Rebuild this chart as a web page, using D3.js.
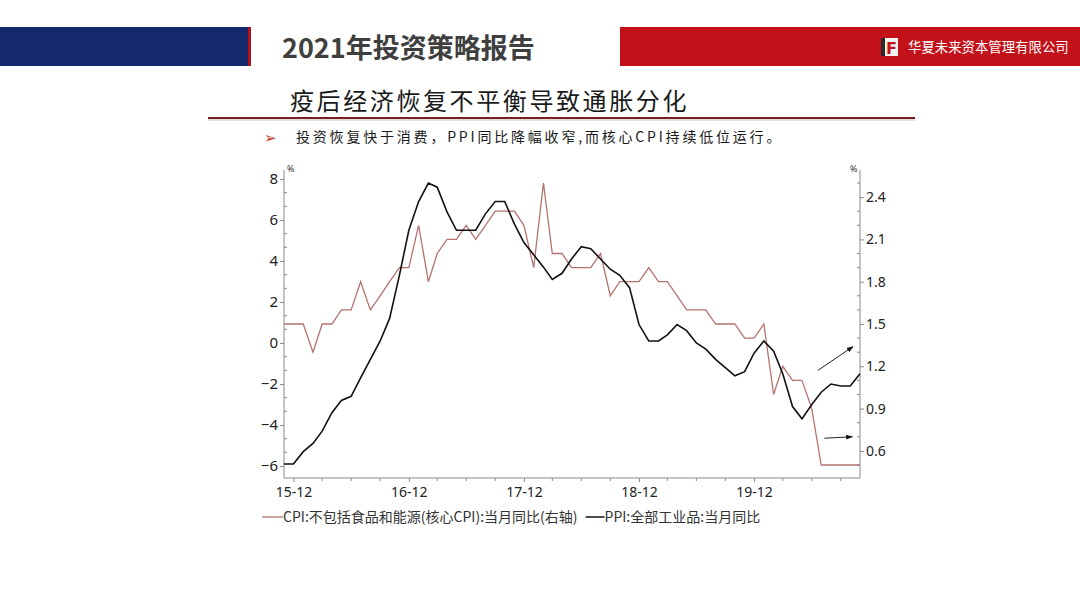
<!DOCTYPE html>
<html><head><meta charset="utf-8">
<script src="https://cdn.jsdelivr.net/npm/d3@7"></script>
<style>body{margin:0;background:#fff;} svg{display:block;}</style>
</head><body><svg id="c" width="1080" height="608"></svg>
<script>
// ---------- data ----------
const months = ["2015-11","2015-12","2016-01","2016-02","2016-03","2016-04","2016-05","2016-06","2016-07","2016-08","2016-09","2016-10","2016-11","2016-12",
"2017-01","2017-02","2017-03","2017-04","2017-05","2017-06","2017-07","2017-08","2017-09","2017-10","2017-11","2017-12",
"2018-01","2018-02","2018-03","2018-04","2018-05","2018-06","2018-07","2018-08","2018-09","2018-10","2018-11","2018-12",
"2019-01","2019-02","2019-03","2019-04","2019-05","2019-06","2019-07","2019-08","2019-09","2019-10","2019-11","2019-12",
"2020-01","2020-02","2020-03","2020-04","2020-05","2020-06","2020-07","2020-08","2020-09","2020-10","2020-11"];
const ppi = [-5.9,-5.9,-5.3,-4.9,-4.3,-3.4,-2.8,-2.6,-1.7,-0.8,0.1,1.2,3.3,5.5,
6.9,7.8,7.6,6.4,5.5,5.5,5.5,6.3,6.9,6.9,5.8,4.9,
4.3,3.7,3.1,3.4,4.1,4.7,4.6,4.1,3.6,3.3,2.7,0.9,
0.1,0.1,0.4,0.9,0.6,0.0,-0.3,-0.8,-1.2,-1.6,-1.4,-0.5,
0.1,-0.4,-1.5,-3.1,-3.7,-3.0,-2.4,-2.0,-2.1,-2.1,-1.5];
const coreCpi = [1.5,1.5,1.5,1.3,1.5,1.5,1.6,1.6,1.8,1.6,1.7,1.8,1.9,1.9,
2.2,1.8,2.0,2.1,2.1,2.2,2.1,2.2,2.3,2.3,2.3,2.2,
1.9,2.5,2.0,2.0,1.9,1.9,1.9,2.0,1.7,1.8,1.8,1.8,
1.9,1.8,1.8,1.7,1.6,1.6,1.6,1.5,1.5,1.5,1.4,1.4,
1.5,1.0,1.2,1.1,1.1,0.9,0.5,0.5,0.5,0.5,0.5];
const xTickLabels = ["15-12","16-12","17-12","18-12","19-12"];
const leftTicks = [-6,-4,-2,0,2,4,6,8];
const rightTicks = [0.6,0.9,1.2,1.5,1.8,2.1,2.4];
const legendLabels = ["CPI:不包括食品和能源(核心CPI):当月同比(右轴)","PPI:全部工业品:当月同比"];
const arrows = [
  {from:["2020-06-20",1.17], to:["2020-10-10",1.34]},
  {from:["2020-07-11",0.69], to:["2020-10-08",0.70]}
];

// ---------- setup ----------
const svg = d3.select("#c");
const W = 1080, H = 608;
svg.append("rect").attr("width",W).attr("height",H).attr("fill","#fff");

// header
svg.append("rect").attr("x",0).attr("y",27).attr("width",248).attr("height",39).attr("fill","#13296b");
svg.append("rect").attr("x",248).attr("y",27).attr("width",3).attr("height",39).attr("fill","#b3121a");
svg.append("rect").attr("x",620).attr("y",27).attr("width",460).attr("height",39).attr("fill","#c3111a");
svg.append("text").attr("x",282).attr("y",58).text("2021年投资策略报告")
  .attr("font-family","'Noto Sans CJK SC', sans-serif").attr("font-weight",700)
  .attr("font-size",27).attr("fill","#3f3f3f");
svg.append("rect").attr("x",881).attr("y",38).attr("width",17).attr("height",18).attr("fill","#f4f1f1");
svg.append("rect").attr("x",881).attr("y",38).attr("width",4).attr("height",18).attr("fill","#2a2a2a");
svg.append("text").attr("x",886).attr("y",54).text("F").attr("font-family","'DejaVu Sans', sans-serif")
  .attr("font-weight",700).attr("font-size",16).attr("fill","#c3111a");
svg.append("text").attr("x",908).attr("y",52).text("华夏未来资本管理有限公司")
  .attr("font-family","'Noto Sans CJK SC', sans-serif").attr("font-size",13.4).attr("fill","#fff");

// heading
svg.append("text").attr("x",290).attr("y",110).text("疫后经济恢复不平衡导致通胀分化")
  .attr("font-family","'Noto Sans CJK SC', sans-serif").attr("font-size",24).attr("letter-spacing",2.6)
  .attr("fill","#1a1a1a");
svg.append("line").attr("x1",208).attr("x2",915).attr("y1",118).attr("y2",118).attr("stroke","#7a1f1f").attr("stroke-width",2);
svg.append("line").attr("x1",208).attr("x2",915).attr("y1",120).attr("y2",120).attr("stroke","#c9bcbc").attr("stroke-width",1);
svg.append("text").attr("x",264).attr("y",143).text("➢")
  .attr("font-family","'DejaVu Sans', sans-serif").attr("font-size",15).attr("fill","#c0392b");
svg.append("text").attr("x",296).attr("y",142).text("投资恢复快于消费，PPI同比降幅收窄,而核心CPI持续低位运行。")
  .attr("font-family","'Noto Sans CJK SC', sans-serif").attr("font-size",14).attr("letter-spacing",2.8)
  .attr("fill","#1a1a1a");

// ---------- scales ----------
const parseM = d3.utcParse("%Y-%m");
const parseD = d3.utcParse("%Y-%m-%d");
const parseT = d3.utcParse("%y-%m");
const dates = months.map(parseM);
const x = d3.scaleUtc().domain([dates[0], dates[dates.length-1]]).range([284, 860]);
const yL = d3.scaleLinear().domain([-6, 8]).range([466, 179]);
const yR = d3.scaleLinear().domain([0.5, 2.5]).range([465, 183]);
const axisTop = 170, axisBottom = 478;

const axisColor = "#8a8a8a";
const tickFont = "'Noto Sans', sans-serif";

// axis lines
svg.append("line").attr("x1",284).attr("x2",284).attr("y1",axisTop).attr("y2",axisBottom).attr("stroke",axisColor);
svg.append("line").attr("x1",860).attr("x2",860).attr("y1",axisTop).attr("y2",axisBottom).attr("stroke",axisColor);
svg.append("line").attr("x1",284).attr("x2",860).attr("y1",axisBottom).attr("y2",axisBottom).attr("stroke",axisColor);

// left axis
const gL = svg.append("g").attr("transform","translate(284,0)")
  .call(d3.axisLeft(yL).tickValues(leftTicks).tickSize(4).tickPadding(2).tickFormat(d3.format("d")));
gL.select(".domain").remove();
gL.selectAll("line").attr("stroke",axisColor);
gL.selectAll("text").attr("font-family",tickFont).attr("font-size",15).attr("fill","#222");
const leftMinor = [];
leftTicks.slice(0,-1).forEach(t => { leftMinor.push(t+2/3, t+4/3); });
svg.append("g").selectAll("line").data(leftMinor).join("line")
  .attr("x1",284).attr("x2",287).attr("y1",d=>yL(d)).attr("y2",d=>yL(d)).attr("stroke",axisColor);

// right axis
const gR = svg.append("g").attr("transform","translate(860,0)")
  .call(d3.axisRight(yR).tickValues(rightTicks).tickSize(4).tickPadding(2).tickFormat(d3.format(".1f")));
gR.select(".domain").remove();
gR.selectAll("line").attr("stroke",axisColor);
gR.selectAll("text").attr("font-family",tickFont).attr("font-size",14).attr("fill","#222");
const rightMinor = d3.range(5, 26).map(v=>v/10).filter(v => !rightTicks.some(t=>Math.abs(t-v)<1e-6));
svg.append("g").selectAll("line").data(rightMinor).join("line")
  .attr("x1",857).attr("x2",860).attr("y1",d=>yR(d)).attr("y2",d=>yR(d)).attr("stroke",axisColor);

// bottom axis
const xMajor = xTickLabels.map(parseT);
const gB = svg.append("g").attr("transform",`translate(0,${axisBottom})`)
  .call(d3.axisBottom(x).tickValues(xMajor).tickSize(4).tickPadding(5).tickFormat(d3.utcFormat("%y-%m")));
gB.select(".domain").remove();
gB.selectAll("line").attr("stroke",axisColor);
gB.selectAll("text").attr("font-family",tickFont).attr("font-size",14).attr("fill","#222");
const xMinor = dates.filter(d => d.getUTCMonth()%3===2 && d.getUTCMonth()!==11);
svg.append("g").selectAll("line").data(xMinor).join("line")
  .attr("x1",d=>x(d)).attr("x2",d=>x(d)).attr("y1",axisBottom).attr("y2",axisBottom+3).attr("stroke",axisColor);

// % units
svg.append("text").attr("x",287).attr("y",172).text("%").attr("font-family",tickFont).attr("font-size",9).attr("fill","#333");
svg.append("text").attr("x",850).attr("y",172).text("%").attr("font-family",tickFont).attr("font-size",9).attr("fill","#333");

// ---------- lines ----------
const cpiColor = "#b3736f";
const ppiColor = "#111";
const lineR = d3.line().x((d,i)=>x(dates[i])).y(d=>yR(d));
const lineL = d3.line().x((d,i)=>x(dates[i])).y(d=>yL(d));
svg.append("path").datum(coreCpi).attr("d",lineR).attr("fill","none").attr("stroke",cpiColor).attr("stroke-width",1.3);
svg.append("path").datum(ppi).attr("d",lineL).attr("fill","none").attr("stroke",ppiColor).attr("stroke-width",1.6);

// arrows
svg.append("defs").append("marker").attr("id","ah").attr("viewBox","0 0 10 10").attr("refX",9).attr("refY",5)
  .attr("markerWidth",7).attr("markerHeight",7).attr("orient","auto").attr("markerUnits","userSpaceOnUse")
  .append("path").attr("d","M0,1.5 L10,5 L0,8.5 Z").attr("fill","#111");
svg.append("g").selectAll("line").data(arrows).join("line")
  .attr("x1",d=>x(parseD(d.from[0]))).attr("y1",d=>yR(d.from[1]))
  .attr("x2",d=>x(parseD(d.to[0]))).attr("y2",d=>yR(d.to[1]))
  .attr("stroke","#222").attr("stroke-width",1).attr("marker-end","url(#ah)");

// ---------- legend ----------
const lg = svg.append("g").attr("font-family","'Noto Sans CJK SC', sans-serif").attr("font-size",14).attr("fill","#333");
lg.append("line").attr("x1",262).attr("x2",283).attr("y1",517).attr("y2",517).attr("stroke",cpiColor).attr("stroke-width",1.3);
const t1 = lg.append("text").attr("x",283).attr("y",522).text(legendLabels[0]);
const w1 = t1.node().getComputedTextLength();
const lx = 283 + w1 + 8;
lg.append("line").attr("x1",lx).attr("x2",lx+19).attr("y1",517).attr("y2",517).attr("stroke",ppiColor).attr("stroke-width",1.5);
lg.append("text").attr("x",lx+19).attr("y",522).text(legendLabels[1]);
</script></body></html>
